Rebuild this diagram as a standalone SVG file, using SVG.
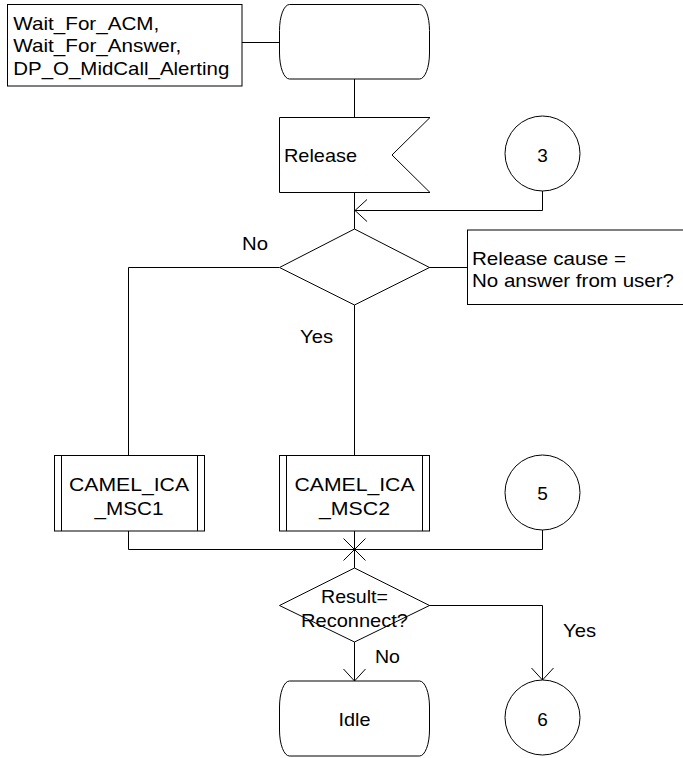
<svg xmlns="http://www.w3.org/2000/svg" width="683" height="758" viewBox="0 0 683 758">
<style>
.s{fill:#fff;stroke:#000;stroke-width:1}
.c{fill:none;stroke:#000;stroke-width:1}
.t{font-family:"Liberation Sans",Arial,sans-serif;font-size:19px;fill:#000}
.m{text-anchor:middle}
</style>
<defs>
<marker id="arr" markerUnits="userSpaceOnUse" viewBox="0 0 14 24" markerWidth="14" markerHeight="24" refX="13" refY="12" orient="auto">
<path d="M1,1 L13,12 L1,23" fill="none" stroke="#000" stroke-width="1"/>
</marker>
</defs>
<g id="connectors">
<path class="c" d="M242,42.5 H279"/>
<path class="c" d="M354.5,79 V117"/>
<path class="c" d="M354.5,192 V229"/>
<path class="c" d="M542.5,191 V210.5 H355" marker-end="url(#arr)"/>
<path class="c" d="M279,267.5 H128.5 V455"/>
<path class="c" d="M429,267.5 H467"/>
<path class="c" d="M354.5,305 V455"/>
<path class="c" d="M128.5,531 V549.5 H542.5 V530"/>
<path class="c" d="M354.5,531 V568"/>
<path class="c" d="M343.5,538.5 L365.5,560.5 M365.5,538.5 L343.5,560.5"/>
<path class="c" d="M429,605.5 H542.5 V680" marker-end="url(#arr)"/>
<path class="c" d="M354.5,642 V681" marker-end="url(#arr)"/>
</g>
<g id="comment_states">
<rect class="s" x="7.5" y="4.5" width="234.5" height="81.5"/>
<text class="t" x="13.3" y="30" textLength="146" lengthAdjust="spacingAndGlyphs">Wait_For_ACM,</text>
<text class="t" x="13.3" y="52" textLength="168" lengthAdjust="spacingAndGlyphs">Wait_For_Answer,</text>
<text class="t" x="13.3" y="75" textLength="216" lengthAdjust="spacingAndGlyphs">DP_O_MidCall_Alerting</text>
</g>
<g id="state_start">
<path class="s" d="M289.5,4.5 H419.5 A10,26 0 0 1 429.5,30.5 V53 A10,26 0 0 1 419.5,79 H289.5 A10,26 0 0 1 279.5,53 V30.5 A10,26 0 0 1 289.5,4.5 Z"/>
</g>
<g id="input_release">
<path class="s" d="M279.5,117.5 H430 L392,155 L430,192.5 H279.5 Z"/>
<text class="t" x="284" y="162" textLength="73" lengthAdjust="spacingAndGlyphs">Release</text>
</g>
<g id="connector_3">
<circle class="s" cx="542.5" cy="153.5" r="37.5"/>
<text class="t m" x="542.5" y="162">3</text>
</g>
<g id="decision_cause">
<path class="s" d="M354.5,229 L429.5,267.5 L354.5,305 L279.5,267.5 Z"/>
<text class="t" x="242" y="250" textLength="26" lengthAdjust="spacingAndGlyphs">No</text>
<text class="t" x="300" y="343" textLength="33" lengthAdjust="spacingAndGlyphs">Yes</text>
</g>
<g id="comment_cause">
<rect class="s" x="467.5" y="230" width="217" height="74.5"/>
<text class="t" x="472" y="265" textLength="154" lengthAdjust="spacingAndGlyphs">Release cause =</text>
<text class="t" x="472" y="287" textLength="202" lengthAdjust="spacingAndGlyphs">No answer from user?</text>
</g>
<g id="proc_msc1">
<rect class="s" x="54.5" y="455.5" width="150" height="75.5"/>
<path class="c" d="M61.5,455.5 V531 M197.5,455.5 V531"/>
<text class="t m" x="129" y="491" textLength="120" lengthAdjust="spacingAndGlyphs">CAMEL_ICA</text>
<text class="t m" x="129" y="515" textLength="69" lengthAdjust="spacingAndGlyphs">_MSC1</text>
</g>
<g id="proc_msc2">
<rect class="s" x="279.5" y="455.5" width="150" height="75.5"/>
<path class="c" d="M286.5,455.5 V531 M422.5,455.5 V531"/>
<text class="t m" x="354.5" y="491" textLength="120" lengthAdjust="spacingAndGlyphs">CAMEL_ICA</text>
<text class="t m" x="354.5" y="515" textLength="71" lengthAdjust="spacingAndGlyphs">_MSC2</text>
</g>
<g id="connector_5">
<circle class="s" cx="542.5" cy="492.5" r="37.5"/>
<text class="t m" x="542.5" y="500">5</text>
</g>
<g id="decision_result">
<path class="s" d="M354.5,568 L429.5,605.5 L354.5,642 L279.5,605.5 Z"/>
<text class="t m" x="354.5" y="603" textLength="67" lengthAdjust="spacingAndGlyphs">Result=</text>
<text class="t m" x="354.5" y="627" textLength="107" lengthAdjust="spacingAndGlyphs">Reconnect?</text>
<text class="t" x="375" y="663" textLength="25" lengthAdjust="spacingAndGlyphs">No</text>
<text class="t" x="563" y="637" textLength="33" lengthAdjust="spacingAndGlyphs">Yes</text>
</g>
<g id="state_idle">
<path class="s" d="M289.5,681 H419.5 A10,26 0 0 1 429.5,707 V730 A10,26 0 0 1 419.5,756 H289.5 A10,26 0 0 1 279.5,730 V707 A10,26 0 0 1 289.5,681 Z"/>
<text class="t m" x="354.5" y="726" textLength="32" lengthAdjust="spacingAndGlyphs">Idle</text>
</g>
<g id="connector_6">
<circle class="s" cx="542.5" cy="717.5" r="37.5"/>
<text class="t m" x="542.5" y="726">6</text>
</g>
</svg>
